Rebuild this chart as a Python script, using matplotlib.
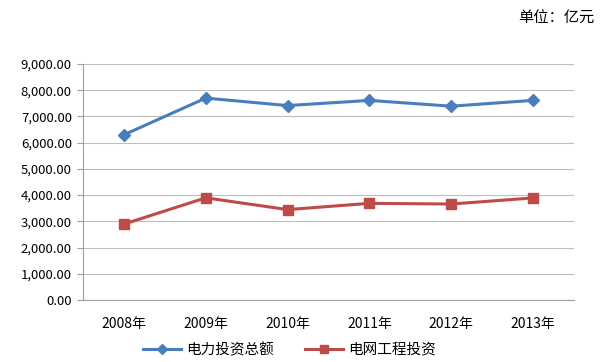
import matplotlib
matplotlib.use('Agg')
import matplotlib.pyplot as plt
from matplotlib.ticker import FuncFormatter

plt.rcParams['font.family'] = ['Noto Sans CJK SC', 'DejaVu Sans']

years = ['2008年', '2009年', '2010年', '2011年', '2012年', '2013年']
total_invest = [6302, 7702, 7417, 7614, 7393, 7616]
grid_invest = [2895, 3898, 3448, 3687, 3661, 3894]

fig = plt.figure(figsize=(6.03, 3.62), dpi=100)
ax = fig.add_axes([0.1376, 0.1713, 0.8144, 0.6517])

x = range(len(years))
ax.plot(x, total_invest, color='#4A7EBB', lw=2.2, marker='D', ms=6.5, label='电力投资总额')
ax.plot(x, grid_invest, color='#BE4B48', lw=2.2, marker='s', ms=7, label='电网工程投资')

ax.set_xlim(-0.5, len(years) - 0.5)
ax.set_ylim(0, 9000)
ax.set_yticks(range(0, 9001, 1000))
ax.yaxis.set_major_formatter(FuncFormatter(lambda v, p: '{:,.2f}'.format(v)))
ax.set_xticks(list(x))
ax.set_xticklabels(years)

ax.grid(axis='y', color='#BFBFBF', lw=0.8)
ax.set_axisbelow(True)
for s in ['top', 'right']:
    ax.spines[s].set_visible(False)
ax.spines['left'].set_color('#A0A0A0')
ax.spines['bottom'].set_color('#A0A0A0')
ax.tick_params(axis='y', length=4, color='#A0A0A0', labelsize=9.5, pad=4)
ax.tick_params(axis='x', length=0, labelsize=10, pad=12)

fig.text(0.985, 0.95, '单位：亿元', ha='right', va='center', fontsize=11)

leg = fig.legend(loc='center', bbox_to_anchor=(0.48, 0.033), ncol=2, frameon=False,
                 fontsize=10.5, handlelength=2.6, handletextpad=0.3, columnspacing=2.2,
                 markerscale=0.75)

plt.savefig('out.png', dpi=100)
